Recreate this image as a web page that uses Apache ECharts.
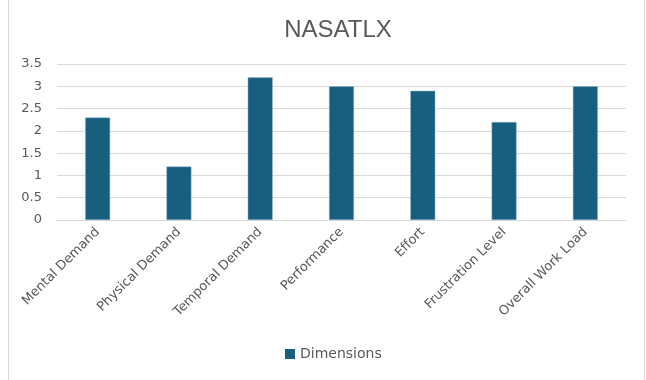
<!DOCTYPE html>
<html><head><meta charset="utf-8">
<script src="https://cdn.jsdelivr.net/npm/echarts@6/dist/echarts.min.js"></script>
<style>html,body{margin:0;padding:0;background:#fff}#c{width:646px;height:380px}</style>
</head><body><div id="c"></div>
<script>
const categories = ["Mental Demand","Physical Demand","Temporal Demand","Performance","Effort","Frustration Level","Overall Work Load"];
const dimensions = [2.3, 1.2, 3.2, 3.0, 2.9, 2.2, 3.0];
const yTicks = [0, 0.5, 1, 1.5, 2, 2.5, 3, 3.5];

const chart = echarts.init(document.getElementById('c'), null, {renderer:'canvas'});
chart.setOption({
  animation:false,
  backgroundColor:'#fff',
  textStyle:{fontFamily:'DejaVu Sans, sans-serif'},
  graphic:[
    {type:'line', shape:{x1:8.5,y1:0,x2:8.5,y2:380}, style:{stroke:'#d9d9d9',lineWidth:1}},
    {type:'line', shape:{x1:644.5,y1:0,x2:644.5,y2:380}, style:{stroke:'#d9d9d9',lineWidth:1}}
  ],
  title:{text:'NASATLX', left:333, textAlign:'center', top:13,
    textStyle:{fontSize:24, fontWeight:'normal', color:'#595959', fontFamily:'Liberation Sans, Arial, sans-serif'}},
  legend:{bottom:14, left:280, itemWidth:10, itemHeight:10, itemGap:3, icon:'rect',
    itemStyle:{borderWidth:0},
    textStyle:{fontSize:14, color:'#595959', fontFamily:'DejaVu Sans, sans-serif'}, data:['Dimensions']},
  grid:{left:57, right:20, top:64, bottom:160, containLabel:false},
  xAxis:{type:'category', data:categories,
    axisLine:{lineStyle:{color:'#d9d9d9', width:1}},
    axisTick:{show:false},
    axisLabel:{rotate:45, color:'#595959', fontSize:13, margin:10, interval:0, fontFamily:'DejaVu Sans, sans-serif'}},
  yAxis:{type:'value', min:yTicks[0], max:yTicks[yTicks.length-1], interval:0.5,
    axisLine:{show:false}, axisTick:{show:false},
    axisLabel:{color:'#595959', fontSize:13, margin:15, fontFamily:'DejaVu Sans, sans-serif'},
    splitLine:{lineStyle:{color:'#d9d9d9', width:1}}},
  series:[{name:'Dimensions', type:'bar', data:dimensions, barWidth:25,
    itemStyle:{color:'#175e7f', borderColor:'#9cbccc', borderWidth:0.5}}]
});
</script></body></html>
